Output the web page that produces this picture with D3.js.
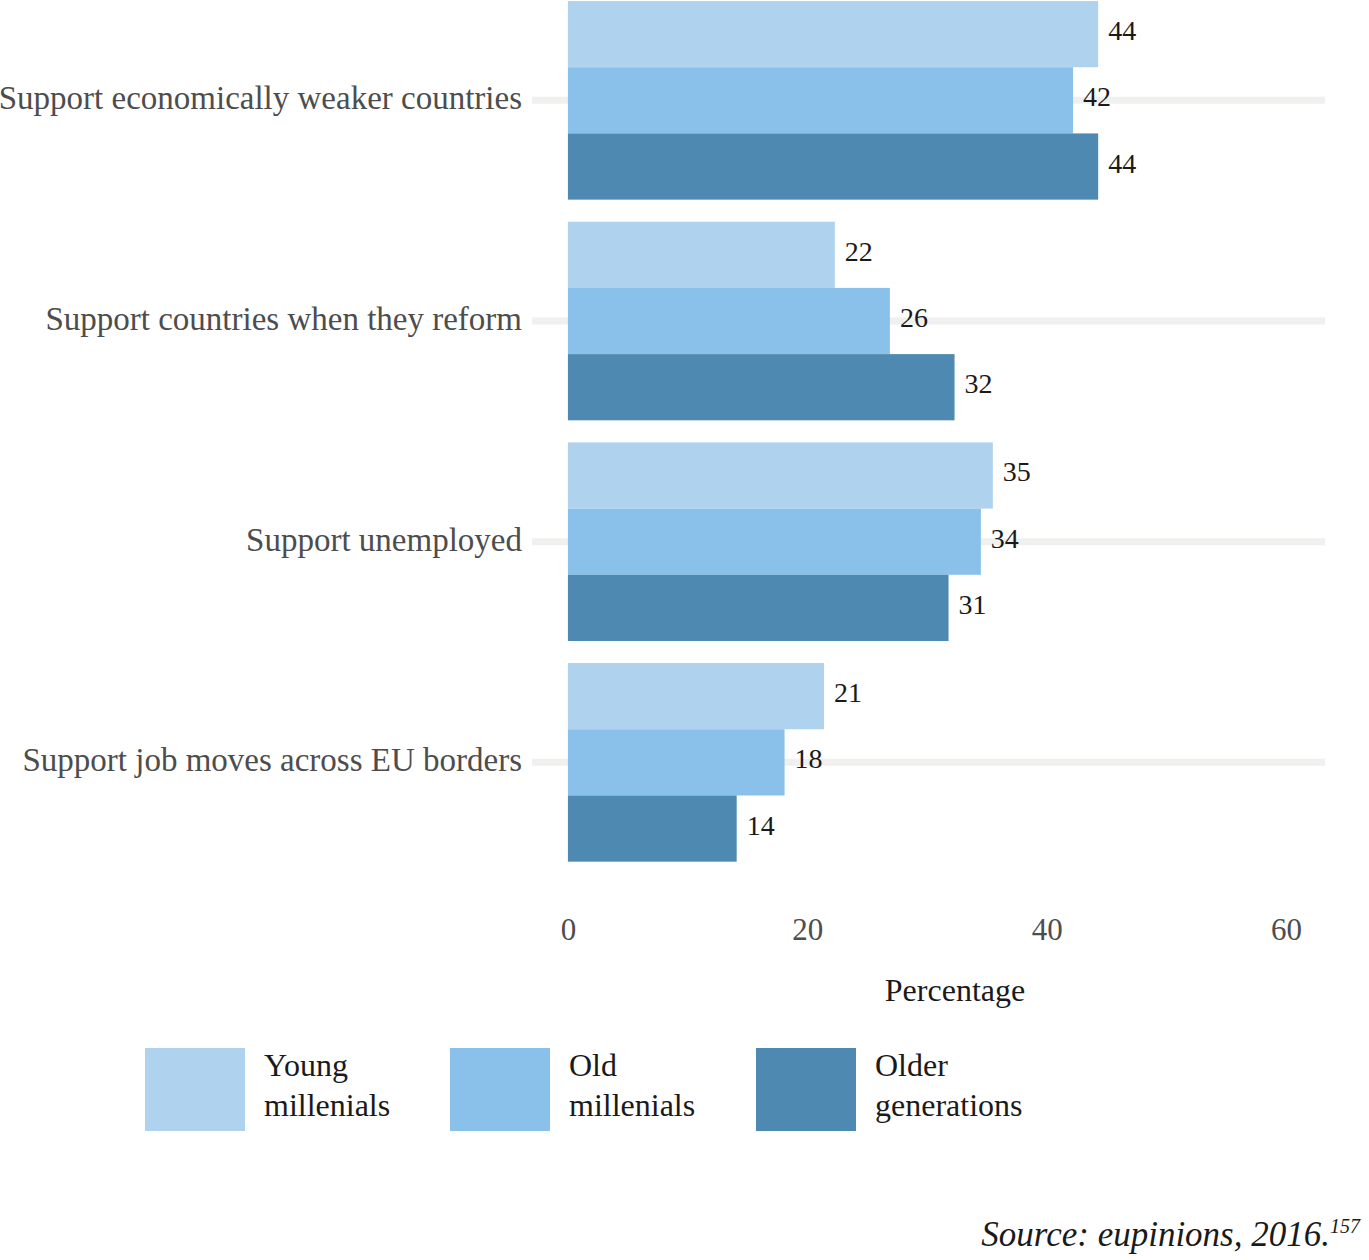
<!DOCTYPE html>
<html>
<head>
<meta charset="utf-8">
<script src="https://cdn.jsdelivr.net/npm/d3@7"></script>
<style>
  html, body { margin: 0; padding: 0; background: #fff; }
  svg { display: block; }
  text { font-family: "Liberation Serif", "Times New Roman", serif; }
</style>
</head>
<body>
<svg id="chart" width="1369" height="1260"></svg>
<script>
// ---- data ----
const categories = [
  "Support economically weaker countries",
  "Support countries when they reform",
  "Support unemployed",
  "Support job moves across EU borders"
];
const seriesNames = ["Young millenials", "Old millenials", "Older generations"];
const legendLines = [["Young", "millenials"], ["Old", "millenials"], ["Older", "generations"]];
const youngValues = [44.3, 22.3, 35.5, 21.4];
const oldValues   = [42.2, 26.9, 34.5, 18.1];
const olderValues = [44.3, 32.3, 31.8, 14.1];
const youngLabels = ["44", "22", "35", "21"];
const oldLabels   = ["42", "26", "34", "18"];
const olderLabels = ["44", "32", "31", "14"];
const xTicks = [0, 20, 40, 60];
const colors = ["#afd2ee", "#8ac1ea", "#4d89b0"];

const seriesValues = [youngValues, oldValues, olderValues];
const seriesLabels = [youngLabels, oldLabels, olderLabels];

const svg = d3.select("#chart");

const x = d3.scaleLinear().domain([-3, 63.25]).range([532, 1325]);
const y = d3.scaleBand().domain(categories).range([-10, 872.7]).paddingInner(0.1).paddingOuter(0.05);
const ySub = d3.scaleBand().domain(seriesNames).range([0, y.bandwidth()]);

// gridlines
svg.append("g").selectAll("line").data(categories).join("line")
  .attr("x1", x.range()[0]).attr("x2", x.range()[1])
  .attr("y1", d => y(d) + y.bandwidth() / 2)
  .attr("y2", d => y(d) + y.bandwidth() / 2)
  .attr("stroke", "#f0f0ef").attr("stroke-width", 7);

// bars
const rows = [];
categories.forEach((c, i) => {
  seriesNames.forEach((s, j) => {
    rows.push({ cat: c, series: s, j, value: seriesValues[j][i], label: seriesLabels[j][i] });
  });
});

svg.append("g").selectAll("rect").data(rows).join("rect")
  .attr("x", x(0))
  .attr("y", d => y(d.cat) + ySub(d.series))
  .attr("width", d => x(d.value) - x(0))
  .attr("height", ySub.bandwidth())
  .attr("fill", d => colors[d.j]);

svg.append("g").selectAll("text").data(rows).join("text")
  .attr("x", d => x(d.value) + 10)
  .attr("y", d => y(d.cat) + ySub(d.series) + ySub.bandwidth() / 2 + 6)
  .attr("font-size", 28)
  .attr("fill", "#1a1a1a")
  .text(d => d.label);

// category labels
svg.append("g").selectAll("text").data(categories).join("text")
  .attr("x", 522)
  .attr("y", d => y(d) + y.bandwidth() / 2 + 9)
  .attr("text-anchor", "end")
  .attr("font-size", 33)
  .attr("fill", "#4d4d4d")
  .text(d => d);

// x axis
const xAxis = d3.axisBottom(x).tickValues(xTicks).tickSize(0).tickPadding(0);
const gx = svg.append("g").attr("transform", "translate(0,918)").call(xAxis);
gx.select(".domain").remove();
gx.selectAll("text")
  .attr("font-family", "\"Liberation Serif\", serif")
  .attr("font-size", 31)
  .attr("fill", "#4d4d4d")
  .attr("dy", null)
  .attr("y", 22);

svg.append("text")
  .attr("x", 955).attr("y", 1001)
  .attr("text-anchor", "middle")
  .attr("font-size", 32)
  .attr("fill", "#1a1a1a")
  .text("Percentage");

// legend
const legendX = [145, 450, 756];
const lg = svg.append("g").selectAll("g").data(seriesNames).join("g")
  .attr("transform", (d, i) => `translate(${legendX[i]},1048)`);
lg.append("rect")
  .attr("width", 100).attr("height", 83)
  .attr("fill", (d, i) => colors[i]);
lg.each(function(d, i) {
  const t = d3.select(this).append("text")
    .attr("x", 119).attr("font-size", 32).attr("fill", "#1a1a1a");
  legendLines[i].forEach((line, k) => {
    t.append("tspan").attr("x", 119).attr("y", 28 + k * 40).text(line);
  });
});

// source
const src = svg.append("text")
  .attr("x", 1360).attr("y", 1246)
  .attr("text-anchor", "end")
  .attr("font-size", 35)
  .attr("font-style", "italic")
  .attr("fill", "#1a1a1a");
src.append("tspan").text("Source: eupinions, 2016.");
src.append("tspan").attr("font-size", 20).attr("dy", -13).text("157");
</script>
</body>
</html>
